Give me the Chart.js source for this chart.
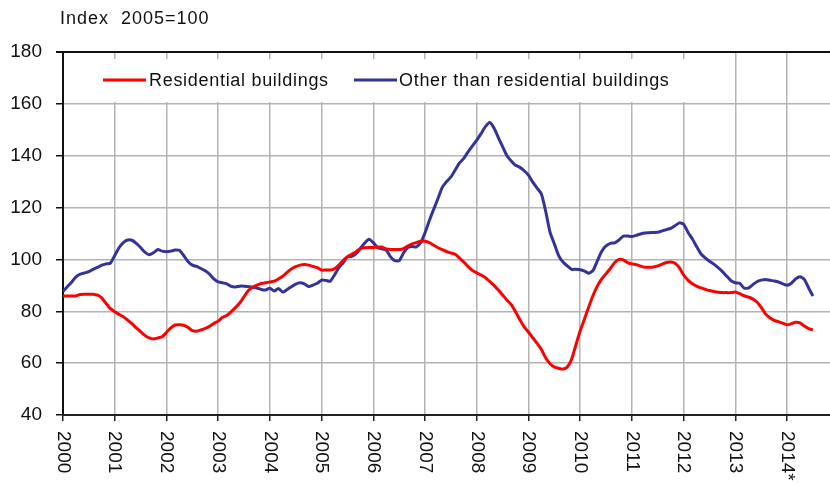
<!DOCTYPE html>
<html><head><meta charset="utf-8">
<script src="https://cdn.jsdelivr.net/npm/chart.js@4"></script>
<style>html,body{margin:0;padding:0;background:#fff;}#wrap{width:830px;height:484px;}</style>
</head><body><div id="wrap"><canvas id="c" width="830" height="484"></canvas></div>
<script>
const titleText = 'Index  2005=100';
const startYear = 2000;
const yearLabels = ['2000','2001','2002','2003','2004','2005','2006','2007','2008','2009','2010','2011','2012','2013','2014*'];
const seriesNames = ['Residential buildings', 'Other than residential buildings'];
const seriesColors = ['#ff0000', '#333399'];

// Monthly values, Jan 2000 – Jul 2014
const residential = [
85.9,85.9,85.9,85.9,86.5,86.6,86.6,86.6,86.2,85.2,83.0,81.0,
79.8,78.8,77.9,76.6,75.2,73.6,72.2,70.7,69.7,69.3,69.7,70.2,
71.8,73.6,74.7,74.8,74.6,73.8,72.5,72.3,72.8,73.4,74.2,75.3,
76.2,77.7,78.4,79.8,81.4,83.2,85.6,88.0,89.3,90.1,90.7,91.0,
91.3,91.6,92.5,93.5,95.0,96.3,97.2,97.8,98.0,97.8,97.3,96.8,
95.9,95.9,95.9,96.4,97.8,99.6,101.0,102.0,103.0,104.2,104.5,104.6,
104.6,104.8,104.8,104.0,103.8,103.8,103.8,104.2,105.2,106.0,106.5,107.0,
107.0,106.5,105.5,104.5,103.8,103.0,102.5,102.0,100.5,99.0,97.2,95.7,
94.8,94.0,93.0,91.5,90.0,88.2,86.3,84.3,82.6,79.8,76.8,74.0,
72.0,69.8,67.6,65.3,62.0,59.8,58.5,58.0,57.7,58.5,61.5,67.0,
72.5,77.0,81.8,86.2,89.8,92.5,94.5,96.5,98.8,100.0,99.8,98.8,
98.3,98.0,97.4,97.0,97.0,97.1,97.5,98.2,98.8,99.0,98.5,96.8,
94.0,92.0,90.6,89.7,89.0,88.5,88.0,87.6,87.3,87.2,87.2,87.2,
87.4,86.8,86.0,85.5,84.8,83.6,81.5,79.0,77.5,76.5,76.0,75.4,
74.8,75.2,75.8,75.5,74.3,73.3,72.8
];
const otherThanResidential = [
87.6,89.5,91.2,93.3,94.3,94.8,95.3,96.2,96.9,97.8,98.3,98.6,
101.5,104.5,106.5,107.5,107.4,106.2,104.6,102.8,101.8,102.6,103.8,103.2,
103.0,103.2,103.6,103.5,101.5,99.2,97.8,97.3,96.5,95.6,94.3,92.5,
91.3,91.0,90.6,89.6,89.4,89.7,89.7,89.5,89.3,89.0,88.4,88.2,
88.9,87.8,88.8,87.4,88.4,89.5,90.5,91.0,90.6,89.6,90.1,90.8,
92.0,91.9,91.6,94.0,96.8,98.7,101.0,101.2,102.2,104.2,106.3,107.8,
106.5,104.5,104.1,103.6,101.0,99.5,99.5,102.5,104.6,105.0,104.8,106.5,
110.3,115.0,119.3,123.5,127.8,130.0,131.8,134.5,137.2,139.0,141.5,143.8,
146.0,148.5,151.2,152.8,150.7,147.0,143.5,140.0,138.0,136.3,135.5,134.2,
132.5,129.8,127.5,125.2,118.5,110.5,106.0,101.5,99.0,97.5,96.2,96.2,
96.0,95.5,94.7,95.8,99.5,103.2,105.2,106.2,106.4,107.5,109.0,109.0,
108.8,109.3,109.8,110.2,110.3,110.4,110.5,111.0,111.5,112.0,113.0,114.1,
113.6,110.5,108.0,105.0,102.2,100.6,99.3,98.2,96.8,95.3,93.5,91.8,
91.0,90.8,89.0,88.9,90.2,91.4,92.0,92.3,92.0,91.7,91.3,90.6,
90.0,90.8,92.5,93.3,92.3,89.0,85.9
];

const FONT = '"Liberation Sans", Arial, sans-serif';
const toPoints = arr => arr.map((v, i) => ({ x: startYear + i / 12, y: v }));

const decorPlugin = {
  id: 'decor',
  afterDraw(chart) {
    const ctx = chart.ctx;
    const xs = chart.scales.x;
    const area = chart.chartArea;
    ctx.save();
    // title
    ctx.font = '18px ' + FONT;
    ctx.letterSpacing = '1px';
    ctx.fillStyle = '#111';
    ctx.textAlign = 'left';
    ctx.textBaseline = 'alphabetic';
    ctx.fillText(titleText, 60, 24);
    // rotated x labels (clockwise)
    ctx.letterSpacing = '0px';
    ctx.font = '19px ' + FONT;
    ctx.textBaseline = 'middle';
    xs.ticks.forEach(t => {
      const idx = Math.round(t.value - startYear);
      const px = xs.getPixelForValue(t.value);
      ctx.save();
      ctx.translate(px, area.bottom + 16);
      ctx.rotate(Math.PI / 2);
      ctx.fillText(yearLabels[idx], 0, 0);
      ctx.restore();
    });
    // legend box
    ctx.fillStyle = '#fff';
    ctx.fillRect(area.left + 1, 59, 642, 43);
    const items = [[103, 146, 149], [354, 397, 399]];
    chart.data.datasets.forEach((ds, i) => {
      const [x0, x1, tx] = items[i];
      ctx.strokeStyle = ds.borderColor;
      ctx.lineWidth = 3;
      ctx.beginPath(); ctx.moveTo(x0, 80); ctx.lineTo(x1, 80); ctx.stroke();
      ctx.fillStyle = '#111';
      ctx.font = '18px ' + FONT;
      ctx.letterSpacing = '0.7px';
      ctx.textBaseline = 'alphabetic';
      ctx.fillText(ds.label, tx, 86);
    });
    ctx.restore();
  }
};

new Chart(document.getElementById('c'), {
  type: 'line',
  data: {
    datasets: [
      { label: seriesNames[0], data: toPoints(residential), borderColor: seriesColors[0], borderWidth: 3, pointRadius: 0, tension: 0.2, fill: false },
      { label: seriesNames[1], data: toPoints(otherThanResidential), borderColor: seriesColors[1], borderWidth: 3, pointRadius: 0, tension: 0.2, fill: false }
    ]
  },
  options: {
    responsive: false,
    animation: false,
    events: [],
    layout: { padding: { top: 52, right: 0, left: 0, bottom: 0 } },
    plugins: { legend: { display: false }, tooltip: { enabled: false }, title: { display: false } },
    scales: {
      x: {
        type: 'linear', min: 2000, max: 2014.83,
        ticks: { stepSize: 1, includeBounds: false, autoSkip: false, minRotation: 90, maxRotation: 90,
                 color: 'rgba(0,0,0,0)', font: { family: FONT, size: 19 }, padding: 10,
                 callback: v => yearLabels[Math.round(v - startYear)] },
        grid: { color: '#b4b4b4', lineWidth: 1.5, tickColor: '#222', tickLength: 6 },
        border: { color: '#222', width: 2 },
        afterFit: s => { s.height = 69; }
      },
      y: {
        min: 40, max: 180,
        ticks: { stepSize: 20, color: '#111', font: { family: FONT, size: 19 }, padding: 14 },
        grid: { color: c => (c.tick && c.tick.value === 180) ? '#111' : '#b4b4b4',
                lineWidth: c => (c.tick && c.tick.value === 180) ? 2 : 1.5,
                tickColor: '#111', tickLength: 7 },
        border: { color: '#111', width: 2 },
        afterFit: s => { s.width = 63; }
      }
    }
  },
  plugins: [decorPlugin]
});
</script>
</body></html>
